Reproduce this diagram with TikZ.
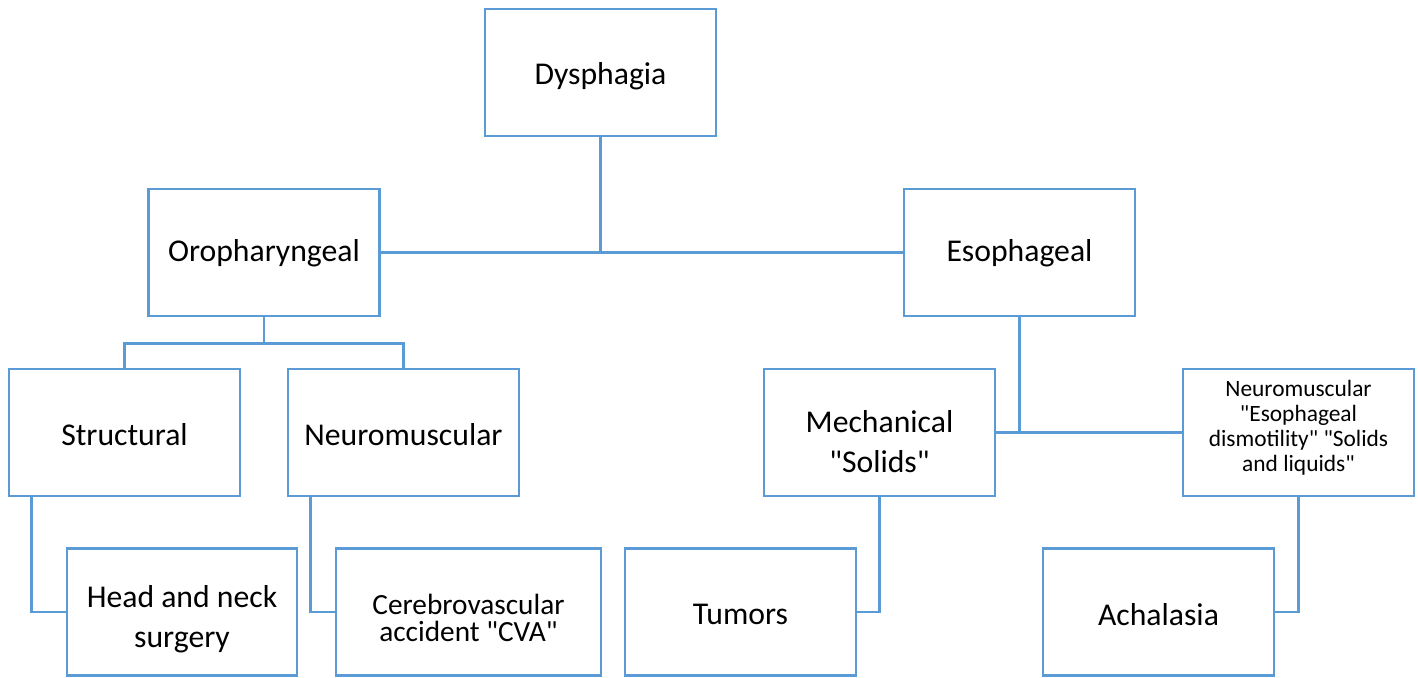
\documentclass[tikz,border=0pt]{standalone}
\usepackage{fontspec}
\setmainfont{Carlito}
\definecolor{boxblue}{HTML}{5B9BD5}
\newcommand{\qd}{\textquotedbl}
\begin{document}
\begin{tikzpicture}[x=1pt,y=-1pt,
  box/.style={draw=boxblue,line width=2.6pt,fill=white,minimum width=231pt,minimum height=127pt,inner sep=0pt},
  txt/.style={align=center,inner sep=0pt,font=\fontsize{31.7}{40}\selectfont},
  smalltxt/.style={txt,font=\fontsize{23.4}{25}\selectfont},
  midtxt/.style={txt,font=\fontsize{29.3}{27.5}\selectfont},
  conn/.style={draw=boxblue,line width=2.6pt}]
\useasboundingbox (0,0) rectangle (1418,677);
\node[box,label={[txt,yshift=-4pt]center:Dysphagia}] (dys) at (600.5,72.5) {};
\node[box,label={[txt,yshift=-1pt]center:Oropharyngeal}] (oro) at (264,252.5) {};
\node[box,label={[txt,yshift=-1pt]center:Esophageal}] (eso) at (1019.5,252.5) {};
\node[box,label={[txt,yshift=-2pt]center:Structural}] (str) at (124.5,432.5) {};
\node[box,label={[txt,yshift=-2pt]center:Neuromuscular}] (neu) at (403.5,432.5) {};
\node[box,label={[txt,yshift=-9pt]center:Mechanical\\\qd Solids\qd}] (mech) at (879.5,432.5) {};
\node[box,label={[smalltxt,yshift=5pt]center:Neuromuscular\\\qd Esophageal\\dismotility\qd{} \qd Solids\\and liquids\qd}] (neur) at (1298.5,432.5) {};
\node[box,minimum width=230pt,label={[txt,yshift=-7pt]center:Head and neck\\surgery}] (head) at (182,612) {};
\node[box,minimum width=265pt,label={[midtxt,yshift=-6pt]center:Cerebrovascular\\accident \qd CVA\qd}] (cva) at (468.5,612) {};
\node[box,label={[txt,yshift=-2pt]center:Tumors}] (tum) at (740.5,612) {};
\node[box,label={[txt,yshift=-3pt]center:Achalasia}] (ach) at (1158.5,612) {};
\draw[conn] (dys.south) -- (dys.south |- oro.east);
\draw[conn] (oro.east) -- (eso.west);
\coordinate (ob) at ([yshift=-26pt]oro.south);
\draw[conn] (oro.south) -- (ob) -| (str.north);
\draw[conn] (ob) -| (neu.north);
\draw[conn] (eso.south) -- (eso.south |- mech.east);
\draw[conn] (mech.east) -- (neur.west);
\draw[conn] ([xshift=24pt]str.south west) |- (head.west);
\draw[conn] ([xshift=24pt]neu.south west) |- (cva.west);
\draw[conn] (mech.south) |- (tum.east);
\draw[conn] (neur.south) |- (ach.east);
\end{tikzpicture}
\end{document}
